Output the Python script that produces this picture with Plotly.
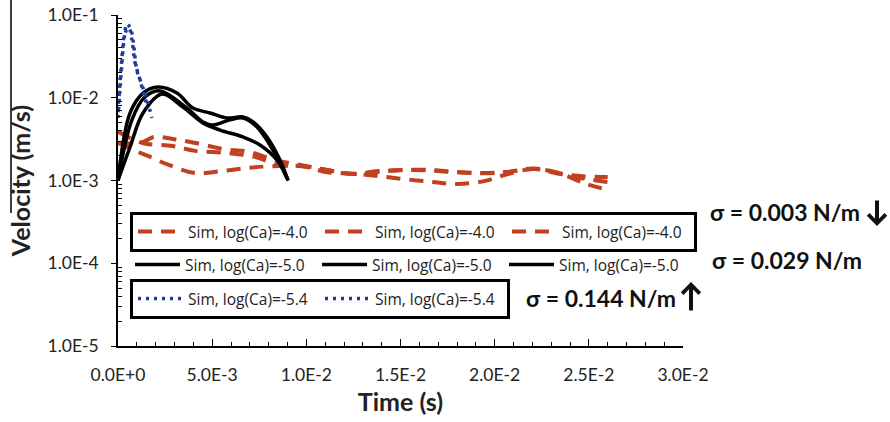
import plotly.graph_objects as go

# ---------------- data ----------------
t_red1 = [0, 0.0013, 0.0019, 0.0029, 0.0041, 0.0056, 0.0070, 0.0083, 0.0097, 0.0111, 0.0124,
          0.0138, 0.0152, 0.0166, 0.0179, 0.0194, 0.0207, 0.0221, 0.0235, 0.0248, 0.0260]
v_red1 = [0.0028, 0.0029, 0.00336, 0.00318, 0.00284, 0.0024, 0.00221, 0.00177, 0.00154, 0.00134, 0.0012,
          0.0013, 0.00134, 0.00134, 0.00127, 0.00123, 0.00127, 0.00138, 0.0012, 0.00112, 0.0011]

t_red2 = [0, 0.0013, 0.0029, 0.0041, 0.0058, 0.0073, 0.0085, 0.0097, 0.0111, 0.0124,
          0.0138, 0.0152, 0.0166, 0.0179, 0.0194, 0.0207, 0.0221, 0.0235, 0.0248, 0.0260]
v_red2 = [0.0039, 0.00284, 0.00261, 0.00228, 0.00215, 0.00192, 0.00154, 0.0015, 0.00134, 0.0012,
          0.00127, 0.00134, 0.00132, 0.00126, 0.00122, 0.00127, 0.0014, 0.00122, 0.00105, 0.00096]

t_red3 = [0, 0.0008, 0.0016, 0.0027, 0.0041, 0.0055, 0.0069, 0.0082, 0.0098, 0.0111, 0.0125,
          0.0138, 0.0152, 0.0167, 0.0180, 0.0195, 0.0207, 0.0221, 0.0235, 0.0248, 0.0260]
v_red3 = [0.0029, 0.00234, 0.00198, 0.00154, 0.00123, 0.0013, 0.00142, 0.00149, 0.00149, 0.00126, 0.00121,
          0.00113, 0.00104, 0.00096, 0.00091, 0.00099, 0.0012, 0.00138, 0.00121, 0.00092, 0.00077]

t_blk1 = [0, 0.00064, 0.00133, 0.00212, 0.00313, 0.00398, 0.00489, 0.00579, 0.00664, 0.00717, 0.00791, 0.0086, 0.00903]
v_blk1 = [0.001, 0.00655, 0.0114, 0.0135, 0.0114, 0.0075, 0.00655, 0.00569, 0.00585, 0.0051, 0.00336, 0.00177, 0.001]

t_blk2 = [0, 0.00074, 0.00143, 0.00223, 0.00366, 0.00451, 0.00504, 0.00595, 0.00664, 0.00738, 0.00844, 0.00903]
v_blk2 = [0.001, 0.0054, 0.0102, 0.0121, 0.0075, 0.0051, 0.00469, 0.0054, 0.00569, 0.00443, 0.00192, 0.001]

t_blk3 = [0, 0.00064, 0.00133, 0.00234, 0.00345, 0.00451, 0.00542, 0.00664, 0.00754, 0.00844, 0.00897]
v_blk3 = [0.001, 0.00254, 0.00655, 0.0111, 0.0077, 0.00496, 0.00407, 0.00336, 0.00269, 0.00177, 0.00107]

t_blu1 = [0, 0.00016, 0.00032, 0.00048, 0.00069, 0.00085, 0.0010, 0.00127, 0.00154, 0.0018]
v_blu1 = [0.0057, 0.0188, 0.0499, 0.078, 0.066, 0.040, 0.0216, 0.0143, 0.0094, 0.0057]

t_blu2 = [0, 0.0002, 0.00037, 0.00058, 0.00074, 0.0009, 0.00117, 0.00138, 0.0016]
v_blu2 = [0.0067, 0.0286, 0.0605, 0.0697, 0.0499, 0.027, 0.0164, 0.0108, 0.0075]

x_tickvals = [0, 0.005, 0.01, 0.015, 0.02, 0.025, 0.03]
x_ticktext = ["0.0E+0", "5.0E-3", "1.0E-2", "1.5E-2", "2.0E-2", "2.5E-2", "3.0E-2"]
y_tickvals = [1e-5, 1e-4, 1e-3, 1e-2, 1e-1]
y_ticktext = ["1.0E-5", "1.0E-4", "1.0E-3", "1.0E-2", "1.0E-1"]

name_red = "Sim, log(Ca)=-4.0"
name_blk = "Sim, log(Ca)=-5.0"
name_blu = "Sim, log(Ca)=-5.4"

RED = "#C1401F"
BLUE = "#203C9A"
FONT = "Lato"

fig = go.Figure()

for tt, vv in [(t_red1, v_red1), (t_red2, v_red2), (t_red3, v_red3)]:
    fig.add_trace(go.Scatter(x=tt, y=vv, mode="lines", name=name_red, legend="legend",
                             line=dict(color=RED, width=4, dash="14px,9px", shape="spline", smoothing=1)))
for tt, vv in [(t_blk1, v_blk1), (t_blk2, v_blk2), (t_blk3, v_blk3)]:
    fig.add_trace(go.Scatter(x=tt, y=vv, mode="lines", name=name_blk, legend="legend2",
                             line=dict(color="black", width=3.5, shape="spline", smoothing=1)))
for tt, vv in [(t_blu1, v_blu1), (t_blu2, v_blu2)]:
    fig.add_trace(go.Scatter(x=tt, y=vv, mode="lines", name=name_blu, legend="legend3",
                             line=dict(color=BLUE, width=3.5, dash="3px,5px", shape="spline", smoothing=1)))

L, R, T, B = 118, 207, 15, 76
PW, PH = 890 - L - R, 422 - T - B


def px(x):
    return (x - L) / PW


def py(y):
    return (422 - B - y) / PH


y_minor = [k * 10 ** e for e in range(-5, -1) for k in range(2, 10)]
x_minor = [i * 0.001 for i in range(0, 31) if i % 5 != 0]

leg_common = dict(orientation="h", xanchor="left", yanchor="top",
                  entrywidth=127, entrywidthmode="pixels", itemwidth=45,
                  font=dict(family="Open Sans", size=15.5, color="#222"),
                  bgcolor="rgba(255,255,255,0)", tracegroupgap=0)

fig.update_layout(
    width=890, height=422,
    margin=dict(l=L, r=R, t=T, b=B, autoexpand=False),
    paper_bgcolor="white", plot_bgcolor="white",
    font=dict(family=FONT, color="#222"),
    legend=dict(x=px(130), y=py(212), bordercolor="black", borderwidth=3, **leg_common),
    legend2=dict(x=px(130), y=py(248), borderwidth=0, **leg_common),
    legend3=dict(x=px(130), y=py(279), bordercolor="black", borderwidth=3, **leg_common),
    xaxis=dict(range=[0, 0.03], showgrid=False, zeroline=False,
               showline=True, linecolor="black", linewidth=1.5,
               tickmode="array", tickvals=x_tickvals, ticktext=x_ticktext,
               ticks="inside", ticklen=7, tickwidth=1.2, tickcolor="black",
               ticklabelstandoff=12,
               tickfont=dict(family=FONT, size=17.5, color="#222"),
               minor=dict(tickmode="array", tickvals=x_minor, ticks="inside", ticklen=4,
                          tickwidth=1, tickcolor="black", showgrid=False),
               title=dict(text="<b>Time (s)</b>", font=dict(family=FONT, size=25, color="#222"), standoff=10)),
    yaxis=dict(type="log", range=[-5, -1], showgrid=False, zeroline=False,
               showline=True, linecolor="black", linewidth=1.5,
               tickmode="array", tickvals=y_tickvals, ticktext=y_ticktext,
               ticks="outside", ticklen=5, tickwidth=1.2, tickcolor="black",
               ticklabelstandoff=9,
               tickfont=dict(family=FONT, size=17.5, color="#222"),
               minor=dict(tickmode="array", tickvals=y_minor, ticks="inside", ticklen=4,
                          tickwidth=1, tickcolor="black", showgrid=False),
               title=dict(text="<b>Velocity (m/s)</b>", font=dict(family=FONT, size=25, color="#222"), standoff=10)),
)

ann_font = dict(family=FONT, size=23, color="#111")
texts = [
    dict(x=px(708), y=py(212), text="<b>σ = 0.003 N/m</b>"),
    dict(x=px(710), y=py(260), text="<b>σ = 0.029 N/m</b>"),
    dict(x=px(524), y=py(298), text="<b>σ = 0.144 N/m</b>"),
]
for a in texts:
    fig.add_annotation(xref="paper", yref="paper", showarrow=False, yanchor="middle",
                       xanchor="left", font=ann_font, **a)

# bold arrows next to the sigma labels
for hx, hy, ay in [(877, 226, -27), (691, 282, 30)]:
    fig.add_annotation(xref="paper", yref="paper", x=px(hx), y=py(hy), text="",
                       showarrow=True, arrowhead=4, arrowwidth=4, arrowsize=0.85,
                       arrowcolor="#111", ax=0, ay=ay, standoff=0, startstandoff=0)

# thin vertical line at far left (present in the reference image)
fig.add_shape(type="line", xref="paper", yref="paper", x0=px(11), x1=px(11), y0=py(213), y1=py(0),
              line=dict(color="black", width=1.5))

fig.write_html("out.html")
